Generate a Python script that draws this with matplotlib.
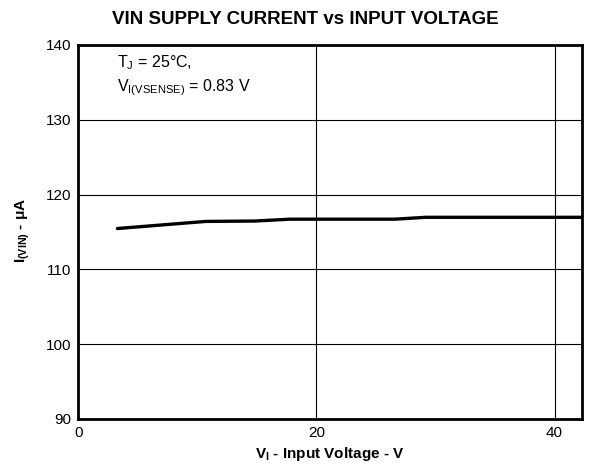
import matplotlib
matplotlib.use("Agg")
import matplotlib.pyplot as plt

plt.rcParams["font.family"] = ["Liberation Sans", "DejaVu Sans"]
plt.rcParams["mathtext.fontset"] = "custom"
plt.rcParams["mathtext.rm"] = "Liberation Sans"
plt.rcParams["mathtext.bf"] = "Liberation Sans:bold"

# input voltage (V) and supply current (uA)
v_in = [3.3, 10.7, 14.8, 17.8, 26.6, 29.2, 42.4]
i_vin = [115.45, 116.4, 116.45, 116.7, 116.7, 116.95, 116.95]

fig = plt.figure(figsize=(5.92, 4.68), dpi=100)
ax = fig.add_axes([0.132, 0.105, 0.851, 0.799])

ax.plot(v_in, i_vin, color="black", lw=2.4, solid_capstyle="round")

ax.set_xlim(0, 42.3)
ax.set_ylim(90, 140)
ax.set_xticks([0, 20, 40])
ax.set_yticks([90, 100, 110, 120, 130, 140])
ax.tick_params(length=0, labelsize=11, pad=5)
ax.grid(True, color="black", lw=0.8)
for s in ax.spines.values():
    s.set_linewidth(2)

fig.text(305 / 592, 1 - 20 / 468, "VIN SUPPLY CURRENT vs INPUT VOLTAGE",
         fontsize=13.5, fontweight="bold", ha="center", va="center")
ax.set_xlabel(r"V$_\mathbf{I}$ - Input Voltage - V", fontsize=11,
              fontweight="bold", labelpad=4)
ax.set_ylabel(r"I$_\mathbf{(VIN)}$ - $\mathbf{\mu}$A", fontsize=11,
              fontweight="bold")
ax.yaxis.set_label_coords(-0.091, 0.505)

ax.text(3.3, 137.6, r"T$_\mathrm{J}$ = 25°C,", fontsize=11.5, va="center")
ax.text(3.3, 134.3, r"V$_\mathrm{I(VSENSE)}$ = 0.83 V", fontsize=11.5, va="center")

fig.savefig("out.png", dpi=100)
